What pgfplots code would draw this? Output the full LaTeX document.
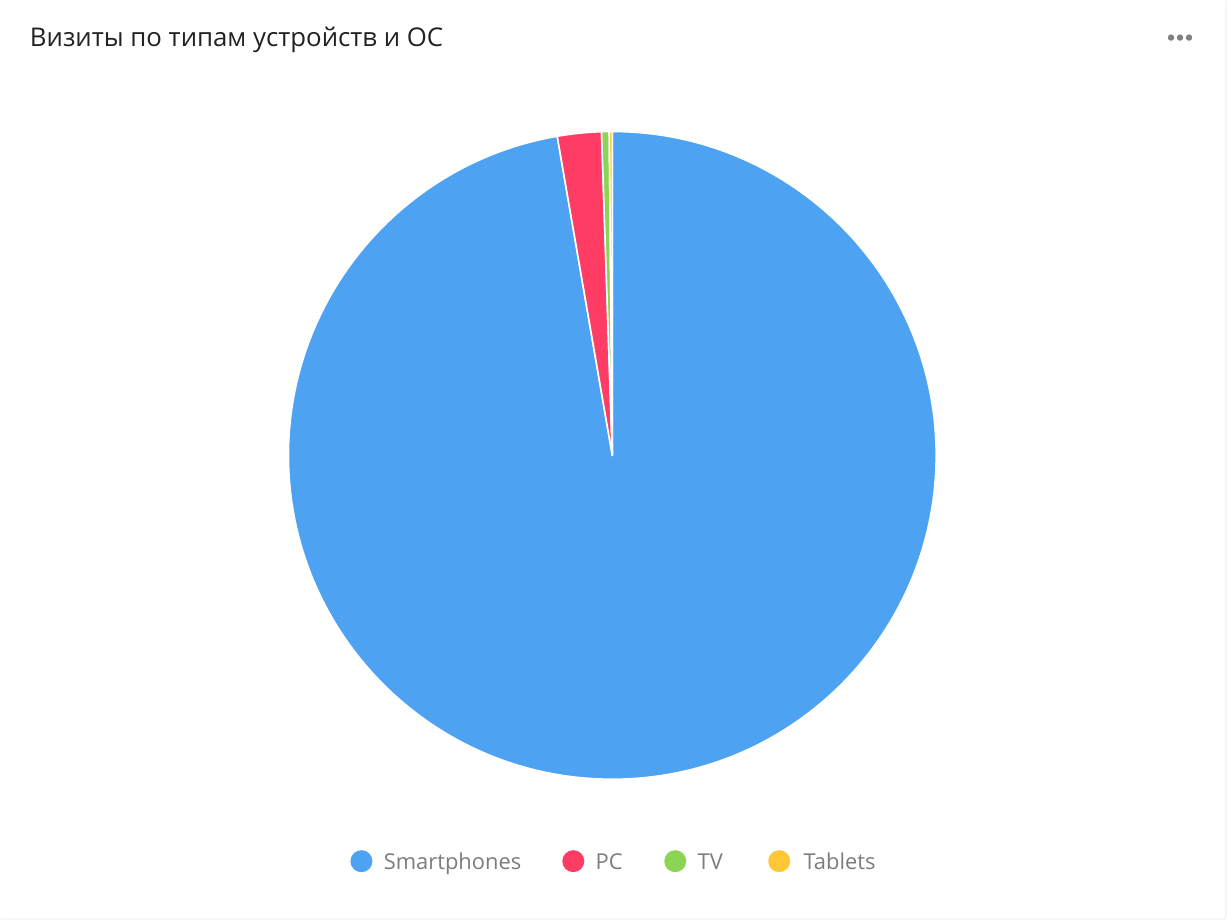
\documentclass[border=0pt]{standalone}
\usepackage{pgfplots}
\usepackage{pgfplotstable}
\pgfplotsset{compat=1.18}
\usepackage{fontspec}
\setmainfont{Open Sans}

\definecolor{cSmart}{HTML}{4DA2F1}
\definecolor{cPC}{HTML}{FF3D64}
\definecolor{cTV}{HTML}{8AD554}
\definecolor{cTab}{HTML}{FFC636}
\definecolor{legtext}{HTML}{7D7B84}
\definecolor{titletext}{HTML}{222222}

% shares of visits, percent
\pgfplotstableread{
name        value  colour
Smartphones 97.28  cSmart
PC          2.19   cPC
TV          0.38   cTV
Tablets     0.15   cTab
}\visits

% slices run clockwise from the top
\pgfplotstablegetrowsof{\visits}
\pgfmathtruncatemacro{\nrows}{\pgfplotsretval-1}
\xdef\angnow{90}
\foreach \i in {0,...,\nrows}{
  \pgfplotstablegetelem{\i}{value}\of{\visits}
  \pgfmathsetmacro{\angend}{\angnow-3.6*\pgfplotsretval}
  \expandafter\xdef\csname sA\i\endcsname{\angnow}
  \expandafter\xdef\csname eA\i\endcsname{\angend}
  \pgfplotstablegetelem{\i}{colour}\of{\visits}
  \expandafter\xdef\csname cS\i\endcsname{\pgfplotsretval}
  \xdef\angnow{\angend}
}

\newcommand{\legitem}[4]{%
  \fill[#3] (axis cs:#1,60) circle[radius=5.5pt];
  \node[anchor=base west, text=legtext, font=\fontsize{10.95}{12}\selectfont, inner sep=0]
    at (axis cs:#2,52) {#4};
}

\begin{document}
\begin{tikzpicture}
\begin{axis}[
  x=0.5pt, y=0.5pt,
  xmin=0, xmax=1228, ymin=0, ymax=921,
  hide axis, clip=false,
]
% card
\fill[white] (axis cs:0,0) rectangle (axis cs:1228,921);
\draw[draw=black!5, line width=0.6pt]
  (axis cs:0,2) -- (axis cs:1222,2) arc[start angle=-90, end angle=0, radius=2pt] -- (axis cs:1226,921);
\node[anchor=base west, text=titletext, font=\fontsize{12.9}{15}\selectfont, inner sep=0]
  at (axis cs:29,875) {Визиты по типам устройств и ОС};
\fill[black!50] (axis cs:1171,884) circle[radius=1.6pt];
\fill[black!50] (axis cs:1180,884) circle[radius=1.6pt];
\fill[black!50] (axis cs:1189,884) circle[radius=1.6pt];

% pie
\pgfplotsinvokeforeach{0,...,3}{
  \fill[\csname cS#1\endcsname, draw=white, line width=0.8pt, line join=round]
    (axis cs:612,466) -- ++(\csname sA#1\endcsname:162pt)
    arc[start angle=\csname sA#1\endcsname, end angle=\csname eA#1\endcsname, radius=162pt] -- cycle;
}

% legend
\legitem{361}{383}{cSmart}{Smartphones}
\legitem{573}{595}{cPC}{PC}
\legitem{675}{697}{cTV}{TV}
\legitem{779}{803}{cTab}{Tablets}
\end{axis}
\end{tikzpicture}
\end{document}
